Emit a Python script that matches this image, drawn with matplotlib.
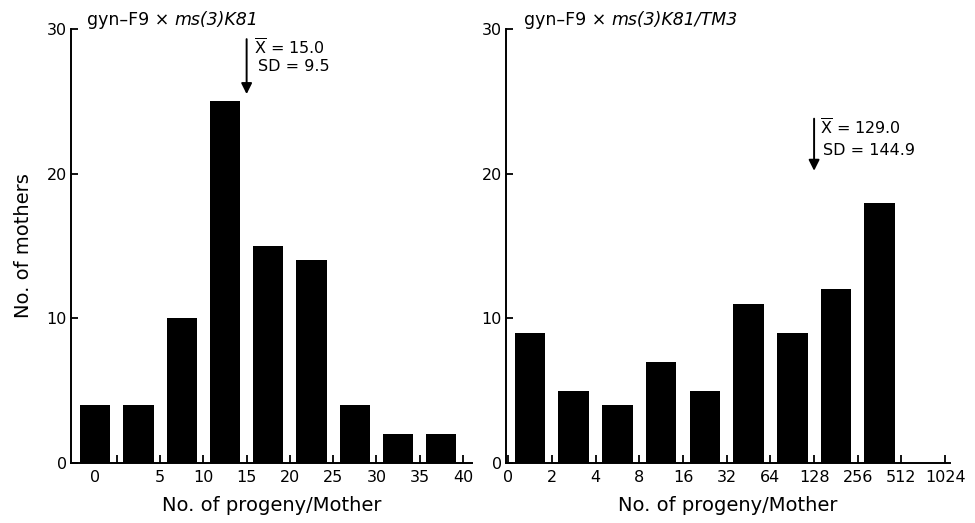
import matplotlib
matplotlib.use("Agg")
import matplotlib.pyplot as plt
import numpy as np

# ---- data ----
left_counts = [4, 4, 10, 25, 15, 14, 4, 2, 2]
left_tick_labels = ["0", "5", "10", "15", "20", "25", "30", "35", "40"]
right_counts = [9, 5, 4, 7, 5, 11, 9, 12, 18]
right_tick_labels = ["0", "2", "4", "8", "16", "32", "64", "128", "256", "512", "1024"]
left_title_plain = "gyn–F9 × "
left_title_italic = "ms(3)K81"
right_title_italic = "ms(3)K81/TM3"
left_mean, left_sd = "15.0", "9.5"
right_mean, right_sd = "129.0", "144.9"
ylabel = "No. of mothers"
xlabel = "No. of progeny/Mother"
y_ticks = [0, 10, 20, 30]

W, H = 975, 523
plt.rcParams['font.family'] = ['DejaVu Sans']
fig = plt.figure(figsize=(W / 100, H / 100), dpi=100)

def px_axes(x0, x1, y_top, y_bot):
    return fig.add_axes([x0 / W, 1 - y_bot / H, (x1 - x0) / W, (y_bot - y_top) / H])

axL = px_axes(71, 472, 29, 463)
axR = px_axes(506, 950, 29, 463)

bar_w = 0.7
for ax in (axL, axR):
    for s in ("top", "right"):
        ax.spines[s].set_visible(False)
    for s in ("left", "bottom"):
        ax.spines[s].set_linewidth(1.4)
    ax.set_ylim(0, 30)
    ax.set_yticks(y_ticks)
    ax.set_yticklabels([str(t) for t in y_ticks], fontsize=11.5)
    ax.tick_params(axis='y', direction='in', length=5, width=1.3, pad=3)
    ax.tick_params(axis='x', which='major', direction='in', length=6, width=1.3, pad=5, labelsize=11.5)
    ax.set_xlabel(xlabel, fontsize=14)
    ax.xaxis.set_label_coords(0.5, -0.075)

# left panel
xl = np.arange(len(left_counts))
axL.bar(xl, left_counts, width=bar_w, color='black')
axL.set_xlim(-0.56, 8.71)
axL.set_xticks(xl + 0.5)
axL.set_xticklabels([""] + left_tick_labels[1:])
axL.set_xticks([0], minor=True)
axL.set_xticklabels([left_tick_labels[0]], minor=True)
axL.tick_params(axis='x', which='minor', length=0, pad=5, labelsize=11.5)
axL.set_ylabel(ylabel, fontsize=14, labelpad=10)

# right panel
xr = np.arange(len(right_counts)) + 0.5
axR.bar(xr, right_counts, width=bar_w, color='black')
axR.set_xlim(-0.05, 10.11)
axR.set_xticks(np.arange(len(right_tick_labels)))
axR.set_xticklabels(right_tick_labels)

# titles (plain part followed by italic part)
for ax, ital in ((axL, left_title_italic), (axR, right_title_italic)):
    t1 = ax.text(0.04, 1.0, left_title_plain, transform=ax.transAxes,
                 fontsize=12.5, ha='left', va='bottom')
    ax.annotate(ital, xy=(1, 0), xycoords=t1, fontsize=12.5, fontstyle='italic',
                ha='left', va='bottom')

# mean arrows
arrow_kw = dict(arrowstyle='-|>', color='black', lw=1.4, mutation_scale=16, shrinkA=0, shrinkB=0)
axL.annotate("", xy=(3.5, 25.5), xytext=(3.5, 29.3), arrowprops=arrow_kw)
axL.text(3.67, 28.7, r"$\overline{\mathrm{X}}$ = " + left_mean, fontsize=11.5, va='center', ha='left')
axL.text(3.76, 27.4, "SD = " + left_sd, fontsize=11.5, va='center', ha='left')

axR.annotate("", xy=(7.0, 20.2), xytext=(7.0, 23.8), arrowprops=arrow_kw)
axR.text(7.14, 23.15, r"$\overline{\mathrm{X}}$ = " + right_mean, fontsize=11.5, va='center', ha='left')
axR.text(7.2, 21.6, "SD = " + right_sd, fontsize=11.5, va='center', ha='left')

fig.savefig("out.png", dpi=100)
